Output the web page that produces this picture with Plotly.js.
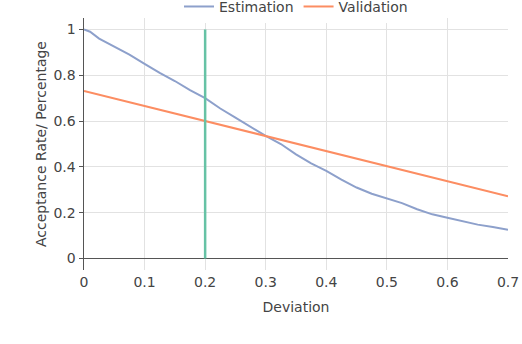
<!DOCTYPE html>
<html>
<head>
<meta charset="utf-8">
<script src="https://cdn.plot.ly/plotly-3.0.1.min.js"></script>
<style>
  html, body { margin: 0; padding: 0; background: #fff; }
  #plot { width: 522px; height: 344px; }
</style>
</head>
<body>
<div id="plot"></div>
<script>
var deviation = [0, 0.01, 0.025, 0.05, 0.075, 0.1, 0.125, 0.15, 0.175, 0.2,
    0.225, 0.25, 0.275, 0.3, 0.325, 0.35, 0.375, 0.4, 0.425, 0.45,
    0.475, 0.5, 0.525, 0.55, 0.575, 0.6, 0.625, 0.65, 0.675, 0.7];
var estimation = [1.0, 0.99, 0.96, 0.925, 0.89, 0.85, 0.81, 0.775, 0.735, 0.70,
    0.655, 0.615, 0.575, 0.535, 0.50, 0.455, 0.415, 0.383, 0.345, 0.31,
    0.283, 0.262, 0.242, 0.215, 0.193, 0.178, 0.162, 0.148, 0.138, 0.126];

var validationX = [0, 0.7];
var validationY = [0.732, 0.272];

var markerX = [0.2, 0.2];
var markerY = [0, 1];

function init() {
    var est = {
        x: deviation,
        y: estimation,
        mode: "lines",
        type: "scatter",
        name: "Estimation",
        line: { color: "#8da0cb", width: 2 }
    };
    var val = {
        x: validationX,
        y: validationY,
        mode: "lines",
        type: "scatter",
        name: "Validation",
        line: { color: "#fc8d62", width: 2 }
    };
    var mark = {
        x: markerX,
        y: markerY,
        mode: "lines",
        type: "scatter",
        showlegend: false,
        hoverinfo: "skip",
        line: { color: "#66c2a5", width: 2.5 }
    };

    var layout = {
        width: 522,
        height: 344,
        font: { family: "DejaVu Sans, sans-serif", size: 14, color: "#444" },
        margin: { l: 84, r: 14, t: 18, b: 74, autoexpand: false },
        paper_bgcolor: "#fff",
        plot_bgcolor: "#fff",
        showlegend: true,
        legend: {
            orientation: "h",
            xref: "paper",
            x: 0.5, xanchor: "center",
            yref: "container",
            y: 0.98, yanchor: "middle",
            font: { size: 14, color: "#444" },
            itemwidth: 30
        },
        xaxis: {
            title: { text: "Deviation", font: { size: 14 }, standoff: 13 },
            tickfont: { size: 14 },
            ticklabelstandoff: 2,
            range: [0, 0.7],
            dtick: 0.1,
            gridcolor: "#e2e2e2",
            zeroline: false,
            showline: false,
            ticks: ""
        },
        yaxis: {
            title: { text: "Acceptance Rate/ Percentage", font: { size: 14 } },
            tickfont: { size: 14 },
            range: [-0.05, 1.05],
            tickvals: [0, 0.2, 0.4, 0.6, 0.8, 1],
            ticktext: ["0", "0.2", "0.4", "0.6", "0.8", "1"],
            gridcolor: "#e2e2e2",
            zeroline: true,
            zerolinecolor: "#555",
            zerolinewidth: 1.5,
            showline: true,
            linecolor: "#555",
            linewidth: 1.5,
            ticks: "outside",
            ticklen: 4,
            tickcolor: "#555"
        }
    };

    Plotly.newPlot("plot", [est, val, mark], layout, { displayModeBar: false, staticPlot: true });
}

init();
</script>
</body>
</html>
